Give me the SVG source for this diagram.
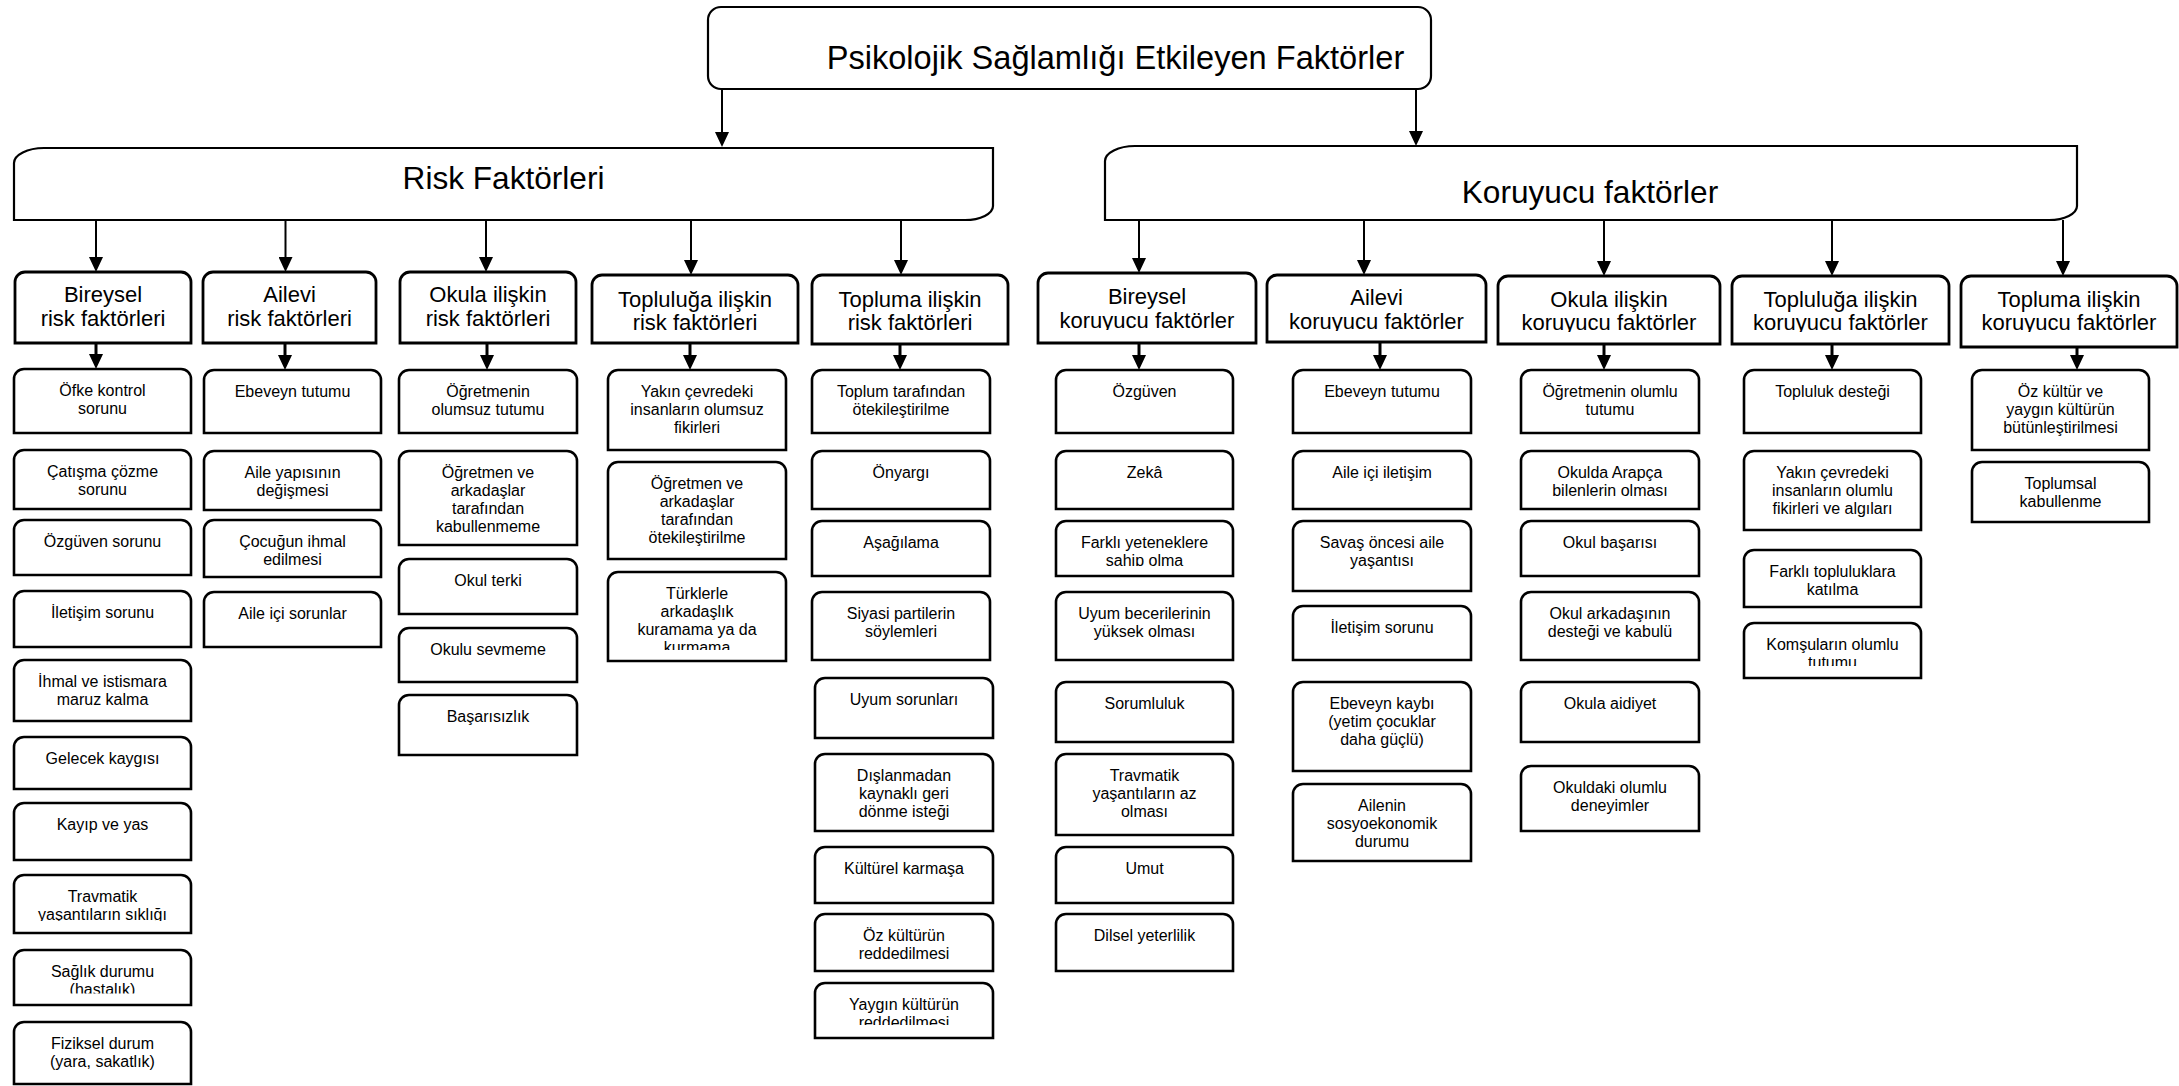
<svg xmlns="http://www.w3.org/2000/svg" width="2179" height="1086" viewBox="0 0 2179 1086">
<style>
text{font-family:"Liberation Sans",Arial,sans-serif;fill:#000;text-anchor:middle}
.big{font-size:31.6px}
.title{font-size:32.6px}
.hd{font-size:22px}
.lf{font-size:16px}
.box{fill:#fff;stroke:#000;stroke-width:2.2}
.hdr{fill:#fff;stroke:#000;stroke-width:2.8}
.leaf{fill:#fff;stroke:#000;stroke-width:2.6}
.ln{stroke:#000;stroke-width:2;fill:none}
.sh{stroke:#000;stroke-width:3;fill:none}
</style>
<defs>
<marker id="ah" viewBox="0 0 15 14" markerWidth="15" markerHeight="14" refX="0" refY="7" orient="auto" markerUnits="userSpaceOnUse"><path d="M0,0L15,7L0,14Z" fill="#000"/></marker>
<clipPath id="ck1"><rect x="1030" y="270" width="240" height="60"/></clipPath>
<clipPath id="ck2"><rect x="1260" y="270" width="240" height="61"/></clipPath>
<clipPath id="ck3"><rect x="1490" y="270" width="240" height="62"/></clipPath>
<clipPath id="ck4"><rect x="1725" y="270" width="235" height="62"/></clipPath>
<clipPath id="ck5"><rect x="1955" y="270" width="224" height="62"/></clipPath>
<clipPath id="c18"><rect x="10" y="870" width="190" height="51"/></clipPath>
<clipPath id="c19"><rect x="10" y="945" width="190" height="48.5"/></clipPath>
<clipPath id="c43"><rect x="600" y="568" width="195" height="82"/></clipPath>
<clipPath id="c59"><rect x="805" y="978" width="195" height="47"/></clipPath>
<clipPath id="c63"><rect x="1050" y="515" width="190" height="51"/></clipPath>
<clipPath id="c94"><rect x="1738" y="618" width="190" height="48"/></clipPath>
</defs>

<g id="connectors">
<line class="ln" x1="722" y1="89" x2="722" y2="132" marker-end="url(#ah)"/>
<line class="ln" x1="1416" y1="89" x2="1416" y2="131" marker-end="url(#ah)"/>
<line class="ln" x1="96" y1="220" x2="96" y2="257" marker-end="url(#ah)"/>
<line class="ln" x1="285.5" y1="220" x2="285.5" y2="257" marker-end="url(#ah)"/>
<line class="ln" x1="486" y1="220" x2="486" y2="257" marker-end="url(#ah)"/>
<line class="ln" x1="691" y1="220" x2="691" y2="260" marker-end="url(#ah)"/>
<line class="ln" x1="901" y1="220" x2="901" y2="260" marker-end="url(#ah)"/>
<line class="ln" x1="1139" y1="220" x2="1139" y2="258" marker-end="url(#ah)"/>
<line class="ln" x1="1364" y1="220" x2="1364" y2="260" marker-end="url(#ah)"/>
<line class="ln" x1="1604" y1="220" x2="1604" y2="261" marker-end="url(#ah)"/>
<line class="ln" x1="1832" y1="220" x2="1832" y2="261" marker-end="url(#ah)"/>
<line class="ln" x1="2063" y1="220" x2="2063" y2="261" marker-end="url(#ah)"/>
<line class="sh" x1="96" y1="343" x2="96" y2="354" marker-end="url(#ah)"/>
<line class="sh" x1="285" y1="343" x2="285" y2="355" marker-end="url(#ah)"/>
<line class="sh" x1="487" y1="343" x2="487" y2="355" marker-end="url(#ah)"/>
<line class="sh" x1="690" y1="343" x2="690" y2="355" marker-end="url(#ah)"/>
<line class="sh" x1="900" y1="344" x2="900" y2="355" marker-end="url(#ah)"/>
<line class="sh" x1="1139" y1="343" x2="1139" y2="355" marker-end="url(#ah)"/>
<line class="sh" x1="1380" y1="342" x2="1380" y2="355" marker-end="url(#ah)"/>
<line class="sh" x1="1604" y1="344" x2="1604" y2="355" marker-end="url(#ah)"/>
<line class="sh" x1="1832" y1="344" x2="1832" y2="355" marker-end="url(#ah)"/>
<line class="sh" x1="2077" y1="347" x2="2077" y2="355" marker-end="url(#ah)"/>
</g>

<g id="root"><rect class="box" x="708" y="7" width="723" height="82" rx="13"/><text class="title" x="1115.5" y="68.5">Psikolojik Sağlamlığı Etkileyen Faktörler</text></g>
<g id="risk"><path class="box" d="M14,220V163A30,15 0 0 1 44,148H993V206A28,14 0 0 1 965,220Z"/><text class="big" x="503.5" y="189">Risk Faktörleri</text></g>
<g id="koruyucu"><path class="box" d="M1105,220V161A30,15 0 0 1 1135,146H2077V206A28,14 0 0 1 2049,220Z"/><text class="big" x="1590" y="203">Koruyucu faktörler</text></g>

<g id="r1"><path class="hdr" d="M15,343V282A10,10 0 0 1 25,272H181A10,10 0 0 1 191,282V343Z"/><text class="hd"><tspan x="103" y="302">Bireysel</tspan><tspan x="103" y="326">risk faktörleri</tspan></text></g>
<g id="r2"><path class="hdr" d="M203,343V282A10,10 0 0 1 213,272H366A10,10 0 0 1 376,282V343Z"/><text class="hd"><tspan x="289.5" y="302">Ailevi</tspan><tspan x="289.5" y="326">risk faktörleri</tspan></text></g>
<g id="r3"><path class="hdr" d="M400,343V282A10,10 0 0 1 410,272H566A10,10 0 0 1 576,282V343Z"/><text class="hd"><tspan x="488" y="302">Okula ilişkin</tspan><tspan x="488" y="326">risk faktörleri</tspan></text></g>
<g id="r4"><path class="hdr" d="M592,343V285A10,10 0 0 1 602,275H788A10,10 0 0 1 798,285V343Z"/><text class="hd"><tspan x="695" y="307">Topluluğa ilişkin</tspan><tspan x="695" y="330">risk faktörleri</tspan></text></g>
<g id="r5"><path class="hdr" d="M812,344V285A10,10 0 0 1 822,275H998A10,10 0 0 1 1008,285V344Z"/><text class="hd"><tspan x="910" y="307">Topluma ilişkin</tspan><tspan x="910" y="330">risk faktörleri</tspan></text></g>
<g id="k1"><path class="hdr" d="M1038,343V283A10,10 0 0 1 1048,273H1246A10,10 0 0 1 1256,283V343Z"/><text class="hd" clip-path="url(#ck1)"><tspan x="1147" y="304">Bireysel</tspan><tspan x="1147" y="328">koruyucu faktörler</tspan></text></g>
<g id="k2"><path class="hdr" d="M1267,342V285A10,10 0 0 1 1277,275H1476A10,10 0 0 1 1486,285V342Z"/><text class="hd" clip-path="url(#ck2)"><tspan x="1376.5" y="305">Ailevi</tspan><tspan x="1376.5" y="329">koruyucu faktörler</tspan></text></g>
<g id="k3"><path class="hdr" d="M1498,344V286A10,10 0 0 1 1508,276H1710A10,10 0 0 1 1720,286V344Z"/><text class="hd" clip-path="url(#ck3)"><tspan x="1609" y="307">Okula ilişkin</tspan><tspan x="1609" y="330">koruyucu faktörler</tspan></text></g>
<g id="k4"><path class="hdr" d="M1732,344V286A10,10 0 0 1 1742,276H1939A10,10 0 0 1 1949,286V344Z"/><text class="hd" clip-path="url(#ck4)"><tspan x="1840.5" y="307">Topluluğa ilişkin</tspan><tspan x="1840.5" y="330">koruyucu faktörler</tspan></text></g>
<g id="k5"><path class="hdr" d="M1961,347V286A10,10 0 0 1 1971,276H2167A10,10 0 0 1 2177,286V347Z"/><text class="hd" clip-path="url(#ck5)"><tspan x="2069" y="307">Topluma ilişkin</tspan><tspan x="2069" y="330">koruyucu faktörler</tspan></text></g>

<g id="r1-1"><path class="leaf" d="M14,433V379A10,10 0 0 1 24,369H181A10,10 0 0 1 191,379V433Z"/><text class="lf"><tspan x="102.5" y="395.5">Öfke kontrol</tspan><tspan x="102.5" y="413.5">sorunu</tspan></text></g>
<g id="r1-2"><path class="leaf" d="M14,509V460A10,10 0 0 1 24,450H181A10,10 0 0 1 191,460V509Z"/><text class="lf"><tspan x="102.5" y="476.5">Çatışma çözme</tspan><tspan x="102.5" y="494.5">sorunu</tspan></text></g>
<g id="r1-3"><path class="leaf" d="M14,575V530A10,10 0 0 1 24,520H181A10,10 0 0 1 191,530V575Z"/><text class="lf" x="102.5" y="546.5">Özgüven sorunu</text></g>
<g id="r1-4"><path class="leaf" d="M14,647V601A10,10 0 0 1 24,591H181A10,10 0 0 1 191,601V647Z"/><text class="lf" x="102.5" y="617.5">İletişim sorunu</text></g>
<g id="r1-5"><path class="leaf" d="M14,721V670A10,10 0 0 1 24,660H181A10,10 0 0 1 191,670V721Z"/><text class="lf"><tspan x="102.5" y="686.5">İhmal ve istismara</tspan><tspan x="102.5" y="704.5">maruz kalma</tspan></text></g>
<g id="r1-6"><path class="leaf" d="M14,789V747A10,10 0 0 1 24,737H181A10,10 0 0 1 191,747V789Z"/><text class="lf" x="102.5" y="763.5">Gelecek kaygısı</text></g>
<g id="r1-7"><path class="leaf" d="M14,860V813A10,10 0 0 1 24,803H181A10,10 0 0 1 191,813V860Z"/><text class="lf" x="102.5" y="829.5">Kayıp ve yas</text></g>
<g id="r1-8"><path class="leaf" d="M14,933V885A10,10 0 0 1 24,875H181A10,10 0 0 1 191,885V933Z"/><text class="lf" clip-path="url(#c18)"><tspan x="102.5" y="901.5">Travmatik</tspan><tspan x="102.5" y="919.5">yaşantıların sıklığı</tspan></text></g>
<g id="r1-9"><path class="leaf" d="M14,1005V960A10,10 0 0 1 24,950H181A10,10 0 0 1 191,960V1005Z"/><text class="lf" clip-path="url(#c19)"><tspan x="102.5" y="976.5">Sağlık durumu</tspan><tspan x="102.5" y="994.5">(hastalık)</tspan></text></g>
<g id="r1-10"><path class="leaf" d="M14,1084V1032A10,10 0 0 1 24,1022H181A10,10 0 0 1 191,1032V1084Z"/><text class="lf"><tspan x="102.5" y="1048.5">Fiziksel durum</tspan><tspan x="102.5" y="1066.5">(yara, sakatlık)</tspan></text></g>

<g id="r2-1"><path class="leaf" d="M204,433V380A10,10 0 0 1 214,370H371A10,10 0 0 1 381,380V433Z"/><text class="lf" x="292.5" y="396.5">Ebeveyn tutumu</text></g>
<g id="r2-2"><path class="leaf" d="M204,510V461A10,10 0 0 1 214,451H371A10,10 0 0 1 381,461V510Z"/><text class="lf"><tspan x="292.5" y="477.5">Aile yapısının</tspan><tspan x="292.5" y="495.5">değişmesi</tspan></text></g>
<g id="r2-3"><path class="leaf" d="M204,577V530A10,10 0 0 1 214,520H371A10,10 0 0 1 381,530V577Z"/><text class="lf"><tspan x="292.5" y="546.5">Çocuğun ihmal</tspan><tspan x="292.5" y="564.5">edilmesi</tspan></text></g>
<g id="r2-4"><path class="leaf" d="M204,647V602A10,10 0 0 1 214,592H371A10,10 0 0 1 381,602V647Z"/><text class="lf" x="292.5" y="618.5">Aile içi sorunlar</text></g>

<g id="r3-1"><path class="leaf" d="M399,433V380A10,10 0 0 1 409,370H567A10,10 0 0 1 577,380V433Z"/><text class="lf"><tspan x="488" y="396.5">Öğretmenin</tspan><tspan x="488" y="414.5">olumsuz tutumu</tspan></text></g>
<g id="r3-2"><path class="leaf" d="M399,545V461A10,10 0 0 1 409,451H567A10,10 0 0 1 577,461V545Z"/><text class="lf"><tspan x="488" y="477.5">Öğretmen ve</tspan><tspan x="488" y="495.5">arkadaşlar</tspan><tspan x="488" y="513.5">tarafından</tspan><tspan x="488" y="531.5">kabullenmeme</tspan></text></g>
<g id="r3-3"><path class="leaf" d="M399,614V569A10,10 0 0 1 409,559H567A10,10 0 0 1 577,569V614Z"/><text class="lf" x="488" y="585.5">Okul terki</text></g>
<g id="r3-4"><path class="leaf" d="M399,682V638A10,10 0 0 1 409,628H567A10,10 0 0 1 577,638V682Z"/><text class="lf" x="488" y="654.5">Okulu sevmeme</text></g>
<g id="r3-5"><path class="leaf" d="M399,755V705A10,10 0 0 1 409,695H567A10,10 0 0 1 577,705V755Z"/><text class="lf" x="488" y="721.5">Başarısızlık</text></g>

<g id="r4-1"><path class="leaf" d="M608,450V380A10,10 0 0 1 618,370H776A10,10 0 0 1 786,380V450Z"/><text class="lf"><tspan x="697" y="396.5">Yakın çevredeki</tspan><tspan x="697" y="414.5">insanların olumsuz</tspan><tspan x="697" y="432.5">fikirleri</tspan></text></g>
<g id="r4-2"><path class="leaf" d="M608,559V472A10,10 0 0 1 618,462H776A10,10 0 0 1 786,472V559Z"/><text class="lf"><tspan x="697" y="488.5">Öğretmen ve</tspan><tspan x="697" y="506.5">arkadaşlar</tspan><tspan x="697" y="524.5">tarafından</tspan><tspan x="697" y="542.5">ötekileştirilme</tspan></text></g>
<g id="r4-3"><path class="leaf" d="M608,661V582A10,10 0 0 1 618,572H776A10,10 0 0 1 786,582V661Z"/><text class="lf" clip-path="url(#c43)"><tspan x="697" y="598.5">Türklerle</tspan><tspan x="697" y="616.5">arkadaşlık</tspan><tspan x="697" y="634.5">kuramama ya da</tspan><tspan x="697" y="652.5">kurmama</tspan></text></g>

<g id="r5-1"><path class="leaf" d="M812,433V380A10,10 0 0 1 822,370H980A10,10 0 0 1 990,380V433Z"/><text class="lf"><tspan x="901" y="396.5">Toplum tarafından</tspan><tspan x="901" y="414.5">ötekileştirilme</tspan></text></g>
<g id="r5-2"><path class="leaf" d="M812,509V461A10,10 0 0 1 822,451H980A10,10 0 0 1 990,461V509Z"/><text class="lf" x="901" y="477.5">Önyargı</text></g>
<g id="r5-3"><path class="leaf" d="M812,576V531A10,10 0 0 1 822,521H980A10,10 0 0 1 990,531V576Z"/><text class="lf" x="901" y="547.5">Aşağılama</text></g>
<g id="r5-4"><path class="leaf" d="M812,660V602A10,10 0 0 1 822,592H980A10,10 0 0 1 990,602V660Z"/><text class="lf"><tspan x="901" y="618.5">Siyasi partilerin</tspan><tspan x="901" y="636.5">söylemleri</tspan></text></g>
<g id="r5-5"><path class="leaf" d="M815,738V688A10,10 0 0 1 825,678H983A10,10 0 0 1 993,688V738Z"/><text class="lf" x="904" y="704.5">Uyum sorunları</text></g>
<g id="r5-6"><path class="leaf" d="M815,831V764A10,10 0 0 1 825,754H983A10,10 0 0 1 993,764V831Z"/><text class="lf"><tspan x="904" y="780.5">Dışlanmadan</tspan><tspan x="904" y="798.5">kaynaklı geri</tspan><tspan x="904" y="816.5">dönme isteği</tspan></text></g>
<g id="r5-7"><path class="leaf" d="M815,903V857A10,10 0 0 1 825,847H983A10,10 0 0 1 993,857V903Z"/><text class="lf" x="904" y="873.5">Kültürel karmaşa</text></g>
<g id="r5-8"><path class="leaf" d="M815,971V924A10,10 0 0 1 825,914H983A10,10 0 0 1 993,924V971Z"/><text class="lf"><tspan x="904" y="940.5">Öz kültürün</tspan><tspan x="904" y="958.5">reddedilmesi</tspan></text></g>
<g id="r5-9"><path class="leaf" d="M815,1038V993A10,10 0 0 1 825,983H983A10,10 0 0 1 993,993V1038Z"/><text class="lf" clip-path="url(#c59)"><tspan x="904" y="1009.5">Yaygın kültürün</tspan><tspan x="904" y="1027.5">reddedilmesi</tspan></text></g>

<g id="k1-1"><path class="leaf" d="M1056,433V380A10,10 0 0 1 1066,370H1223A10,10 0 0 1 1233,380V433Z"/><text class="lf" x="1144.5" y="396.5">Özgüven</text></g>
<g id="k1-2"><path class="leaf" d="M1056,509V461A10,10 0 0 1 1066,451H1223A10,10 0 0 1 1233,461V509Z"/><text class="lf" x="1144.5" y="477.5">Zekâ</text></g>
<g id="k1-3"><path class="leaf" d="M1056,576V531A10,10 0 0 1 1066,521H1223A10,10 0 0 1 1233,531V576Z"/><text class="lf" clip-path="url(#c63)"><tspan x="1144.5" y="547.5">Farklı yeteneklere</tspan><tspan x="1144.5" y="565.5">sahip olma</tspan></text></g>
<g id="k1-4"><path class="leaf" d="M1056,660V602A10,10 0 0 1 1066,592H1223A10,10 0 0 1 1233,602V660Z"/><text class="lf"><tspan x="1144.5" y="618.5">Uyum becerilerinin</tspan><tspan x="1144.5" y="636.5">yüksek olması</tspan></text></g>
<g id="k1-5"><path class="leaf" d="M1056,742V692A10,10 0 0 1 1066,682H1223A10,10 0 0 1 1233,692V742Z"/><text class="lf" x="1144.5" y="708.5">Sorumluluk</text></g>
<g id="k1-6"><path class="leaf" d="M1056,835V764A10,10 0 0 1 1066,754H1223A10,10 0 0 1 1233,764V835Z"/><text class="lf"><tspan x="1144.5" y="780.5">Travmatik</tspan><tspan x="1144.5" y="798.5">yaşantıların az</tspan><tspan x="1144.5" y="816.5">olması</tspan></text></g>
<g id="k1-7"><path class="leaf" d="M1056,903V857A10,10 0 0 1 1066,847H1223A10,10 0 0 1 1233,857V903Z"/><text class="lf" x="1144.5" y="873.5">Umut</text></g>
<g id="k1-8"><path class="leaf" d="M1056,971V924A10,10 0 0 1 1066,914H1223A10,10 0 0 1 1233,924V971Z"/><text class="lf" x="1144.5" y="940.5">Dilsel yeterlilik</text></g>

<g id="k2-1"><path class="leaf" d="M1293,433V380A10,10 0 0 1 1303,370H1461A10,10 0 0 1 1471,380V433Z"/><text class="lf" x="1382" y="396.5">Ebeveyn tutumu</text></g>
<g id="k2-2"><path class="leaf" d="M1293,509V461A10,10 0 0 1 1303,451H1461A10,10 0 0 1 1471,461V509Z"/><text class="lf" x="1382" y="477.5">Aile içi iletişim</text></g>
<g id="k2-3"><path class="leaf" d="M1293,591V531A10,10 0 0 1 1303,521H1461A10,10 0 0 1 1471,531V591Z"/><text class="lf"><tspan x="1382" y="547.5">Savaş öncesi aile</tspan><tspan x="1382" y="565.5">yaşantısı</tspan></text></g>
<g id="k2-4"><path class="leaf" d="M1293,660V616A10,10 0 0 1 1303,606H1461A10,10 0 0 1 1471,616V660Z"/><text class="lf" x="1382" y="632.5">İletişim sorunu</text></g>
<g id="k2-5"><path class="leaf" d="M1293,771V692A10,10 0 0 1 1303,682H1461A10,10 0 0 1 1471,692V771Z"/><text class="lf"><tspan x="1382" y="708.5">Ebeveyn kaybı</tspan><tspan x="1382" y="726.5">(yetim çocuklar</tspan><tspan x="1382" y="744.5">daha güçlü)</tspan></text></g>
<g id="k2-6"><path class="leaf" d="M1293,861V794A10,10 0 0 1 1303,784H1461A10,10 0 0 1 1471,794V861Z"/><text class="lf"><tspan x="1382" y="810.5">Ailenin</tspan><tspan x="1382" y="828.5">sosyoekonomik</tspan><tspan x="1382" y="846.5">durumu</tspan></text></g>

<g id="k3-1"><path class="leaf" d="M1521,433V380A10,10 0 0 1 1531,370H1689A10,10 0 0 1 1699,380V433Z"/><text class="lf"><tspan x="1610" y="396.5">Öğretmenin olumlu</tspan><tspan x="1610" y="414.5">tutumu</tspan></text></g>
<g id="k3-2"><path class="leaf" d="M1521,509V461A10,10 0 0 1 1531,451H1689A10,10 0 0 1 1699,461V509Z"/><text class="lf"><tspan x="1610" y="477.5">Okulda Arapça</tspan><tspan x="1610" y="495.5">bilenlerin olması</tspan></text></g>
<g id="k3-3"><path class="leaf" d="M1521,576V531A10,10 0 0 1 1531,521H1689A10,10 0 0 1 1699,531V576Z"/><text class="lf" x="1610" y="547.5">Okul başarısı</text></g>
<g id="k3-4"><path class="leaf" d="M1521,660V602A10,10 0 0 1 1531,592H1689A10,10 0 0 1 1699,602V660Z"/><text class="lf"><tspan x="1610" y="618.5">Okul arkadaşının</tspan><tspan x="1610" y="636.5">desteği ve kabulü</tspan></text></g>
<g id="k3-5"><path class="leaf" d="M1521,742V692A10,10 0 0 1 1531,682H1689A10,10 0 0 1 1699,692V742Z"/><text class="lf" x="1610" y="708.5">Okula aidiyet</text></g>
<g id="k3-6"><path class="leaf" d="M1521,831V776A10,10 0 0 1 1531,766H1689A10,10 0 0 1 1699,776V831Z"/><text class="lf"><tspan x="1610" y="792.5">Okuldaki olumlu</tspan><tspan x="1610" y="810.5">deneyimler</tspan></text></g>

<g id="k4-1"><path class="leaf" d="M1744,433V380A10,10 0 0 1 1754,370H1911A10,10 0 0 1 1921,380V433Z"/><text class="lf" x="1832.5" y="396.5">Topluluk desteği</text></g>
<g id="k4-2"><path class="leaf" d="M1744,530V461A10,10 0 0 1 1754,451H1911A10,10 0 0 1 1921,461V530Z"/><text class="lf"><tspan x="1832.5" y="477.5">Yakın çevredeki</tspan><tspan x="1832.5" y="495.5">insanların olumlu</tspan><tspan x="1832.5" y="513.5">fikirleri ve algıları</tspan></text></g>
<g id="k4-3"><path class="leaf" d="M1744,607V560A10,10 0 0 1 1754,550H1911A10,10 0 0 1 1921,560V607Z"/><text class="lf"><tspan x="1832.5" y="576.5">Farklı topluluklara</tspan><tspan x="1832.5" y="594.5">katılma</tspan></text></g>
<g id="k4-4"><path class="leaf" d="M1744,678V633A10,10 0 0 1 1754,623H1911A10,10 0 0 1 1921,633V678Z"/><text class="lf" clip-path="url(#c94)"><tspan x="1832.5" y="649.5">Komşuların olumlu</tspan><tspan x="1832.5" y="667.5">tutumu</tspan></text></g>

<g id="k5-1"><path class="leaf" d="M1972,450V380A10,10 0 0 1 1982,370H2139A10,10 0 0 1 2149,380V450Z"/><text class="lf"><tspan x="2060.5" y="396.5">Öz kültür ve</tspan><tspan x="2060.5" y="414.5">yaygın kültürün</tspan><tspan x="2060.5" y="432.5">bütünleştirilmesi</tspan></text></g>
<g id="k5-2"><path class="leaf" d="M1972,522V472A10,10 0 0 1 1982,462H2139A10,10 0 0 1 2149,472V522Z"/><text class="lf"><tspan x="2060.5" y="488.5">Toplumsal</tspan><tspan x="2060.5" y="506.5">kabullenme</tspan></text></g>
</svg>
